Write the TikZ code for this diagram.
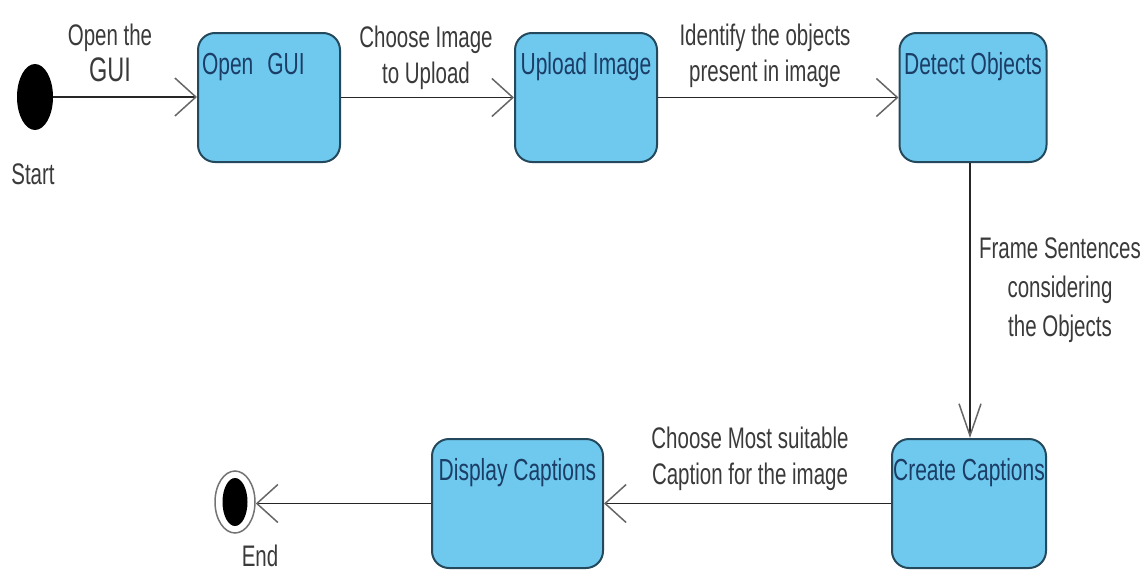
\documentclass[tikz,border=0pt]{standalone}
\usepackage{fontspec}
\setmainfont{Liberation Sans}
\usetikzlibrary{arrows.meta,shapes.geometric}
\definecolor{statefill}{HTML}{6FC9EE}
\definecolor{stateline}{HTML}{24495C}
\definecolor{statetext}{HTML}{1B3D66}
\definecolor{labeltext}{HTML}{3A3A3A}
% tall, narrow lettering
\newcommand{\tall}[1]{\scalebox{1}[1.45]{#1}}
\newcommand{\stack}[1]{\tall{\begin{tabular}[t]{@{}c@{}}#1\end{tabular}}}
\begin{document}
\begin{tikzpicture}[x=1pt,y=-1pt,
  state/.style={draw=stateline, fill=statefill, line width=2pt, rounded corners=17pt,
    inner sep=0pt, text height=41pt, text depth=88pt, text=statetext,
    font=\fontsize{21}{25}\selectfont},
  lbl/.style={anchor=base, inner sep=0pt, text=labeltext,
    font=\fontsize{20.5}{25.5}\selectfont},
  flow/.style={line width=1.5pt, draw=black!85,
    -{Straight Barb[length=21pt,width=38pt,line width=1.5pt,color=black!60]}},
  flowdown/.style={line width=1.5pt, draw=black!85,
    -{Straight Barb[length=32pt,width=22pt,line width=1.5pt,color=black!60]}},
  ]
\useasboundingbox (0,0) rectangle (1147,570);

% initial and final states
\node[ellipse, fill=black, minimum width=36pt, minimum height=66pt, inner sep=0pt] (start) at (35,97) {};
\node[ellipse, draw=black!55, line width=1.5pt, fill=white, minimum width=40pt, minimum height=62pt, inner sep=0pt] (end) at (235,502) {};
\node[ellipse, fill=black, minimum width=25pt, minimum height=48pt, inner sep=0pt] (endcore) at (end.center) {};
\node[lbl] (startlbl) at (33,184) {\tall{Start}};
\node[lbl] (endlbl) at (260,566) {\tall{End}};

% activity states
\node[state, minimum width=142pt, text width=134pt, align=left] (gui) at (269,97.5) {\tall{Open\ \ GUI}};
\node[state, minimum width=142pt] (up) at (586,97.5) {\tall{Upload Image}};
\node[state, minimum width=147pt] (det) at (973,97.5) {\tall{Detect Objects}};
\node[state, minimum width=154pt] (cre) at (969,503.5) {\tall{Create Captions}};
\node[state, minimum width=171pt] (disp) at (517.5,503.5) {\tall{Display Captions}};

% transition labels
\node[lbl] (l1) at (110,45) {\stack{Open the\\{\fontsize{23.5}{25.5}\selectfont GUI}}};
\node[lbl] (l2) at (426,47) {\stack{Choose Image\\to Upload}};
\node[lbl] (l3) at (765,45) {\stack{Identify the objects\\present in image}};
\node[lbl, font=\fontsize{20.5}{27.2}\selectfont] (l4) at (1060,258) {\stack{Frame Sentences\\considering\\the Objects}};
\node[lbl] (l5) at (750,448) {\stack{Choose Most suitable\\Caption for the image}};

% transitions
\draw[flow] (start.east) -- (start.east -| gui.west);
\draw[flow] (gui.east) -- (up.west);
\draw[flow] (up.east) -- (det.west);
\draw[flowdown] (det.south -| 970,0) -- (cre.north -| 970,0);
\draw[flow] (cre.west) -- (disp.east);
\draw[flow] (disp.west) -- (disp.west -| end.east);
\end{tikzpicture}
\end{document}
